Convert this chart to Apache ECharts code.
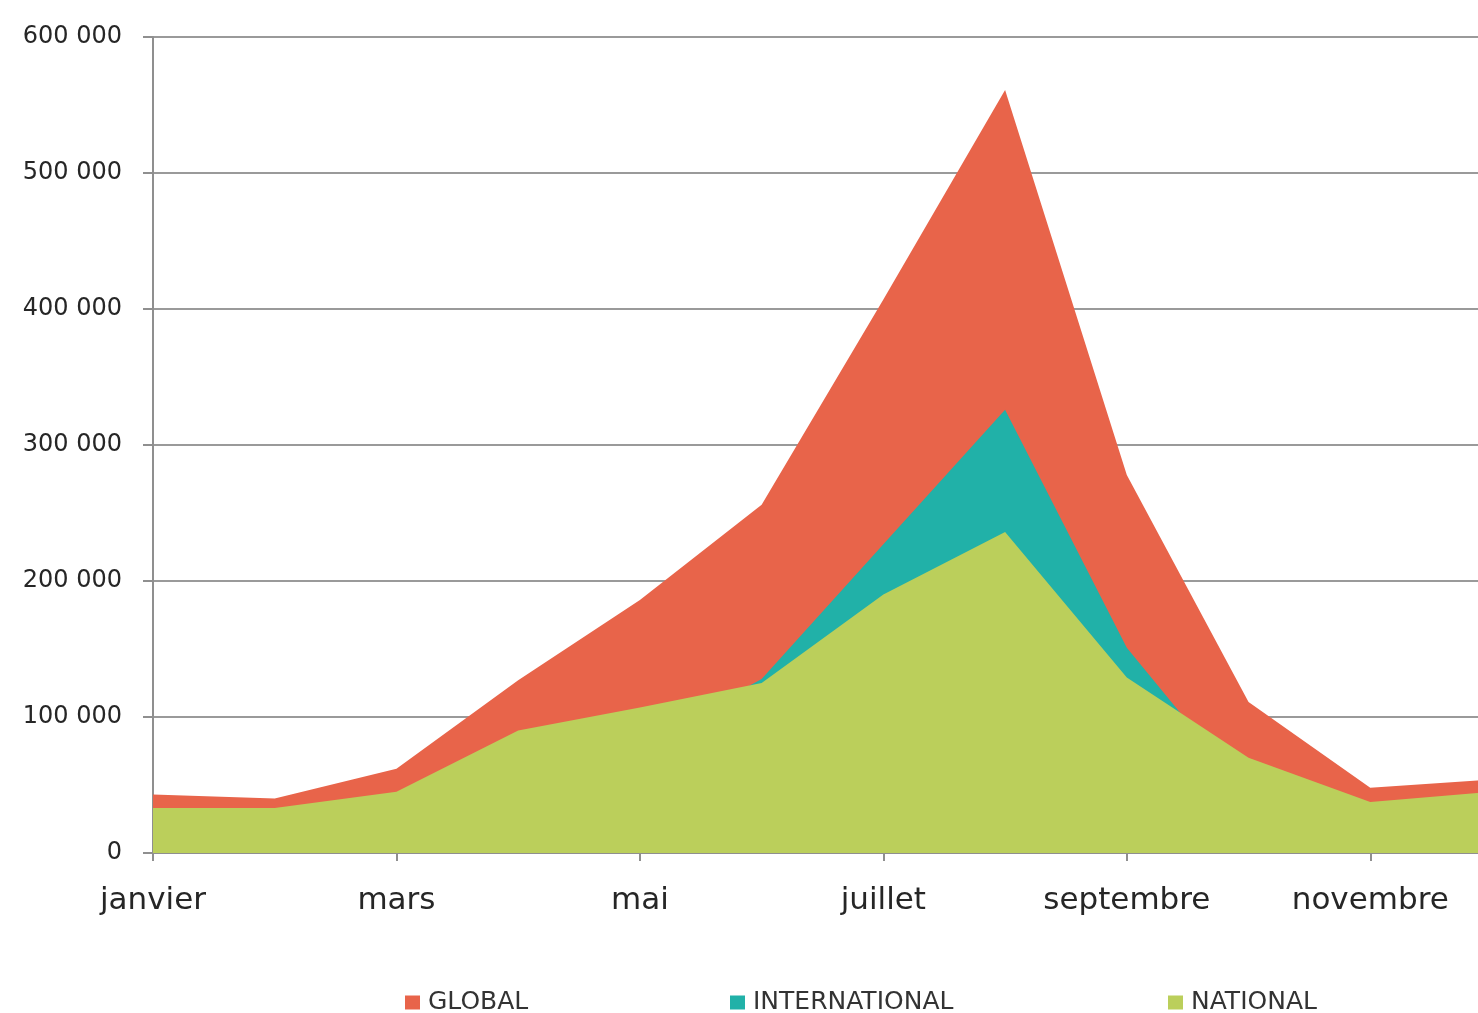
<!DOCTYPE html>
<html>
<head>
<meta charset="utf-8">
<title>Fréquentation mensuelle</title>
<script src="https://cdn.jsdelivr.net/npm/echarts@6/dist/echarts.min.js"></script>
<style>
    html, body { margin: 0; padding: 0; background: #fff; overflow: hidden; }
    /* le graphique d'origine est coupé à droite : décembre tombe hors cadre */
    #chart { width: 1492px; height: 1013px; }
</style>
</head>
<body>
<div id="chart"></div>
<script>
// mois (un libellé sur deux affiché)
var mois = ['janvier', 'février', 'mars', 'avril', 'mai', 'juin',
    'juillet', 'août', 'septembre', 'octobre', 'novembre', 'décembre'];
// valeurs
var globalData = [43000, 40000, 62000, 127000, 186000, 256000, 407000, 561000, 278000, 111000, 48000, 54000];
var internationalData = [10000, 7000, 17000, 37000, 79000, 128000, 227000, 326000, 151000, 42000, 11000, 9000];
var nationalData = [33000, 33000, 45000, 90000, 107000, 125000, 190000, 236000, 129000, 70000, 37500, 45000];
var yTicks = [0, 100000, 200000, 300000, 400000, 500000, 600000];
var legendes = ['GLOBAL', 'INTERNATIONAL', 'NATIONAL'];

var couleurs = ['#E8644A', '#21B1A8', '#BBCF5B'];
var police = '"DejaVu Sans", "Open Sans", sans-serif';
var gris = '#8f8f8f';
var texte = '#262626';

function formatMillier(v) {
    return String(v).replace(/\B(?=(\d{3})+(?!\d))/g, ' ');
}

function serie(nom, data, couleur) {
    return {
        name: nom,
        type: 'line',
        data: data,
        symbol: 'none',
        lineStyle: {width: 0},
        areaStyle: {color: couleur, opacity: 1},
        itemStyle: {color: couleur},
        animation: false
    };
}

function legende(nom, x) {
    return {
        data: [nom],
        left: x,
        top: 990,
        padding: 0,
        icon: 'rect',
        itemWidth: 15,
        itemHeight: 14,
        textStyle: {color: '#333', fontSize: 25, fontFamily: police, padding: [0, 0, 0, 3]}
    };
}

var chart = echarts.init(document.getElementById('chart'));
var option = {
    backgroundColor: '#fff',
    color: couleurs,
    textStyle: {fontFamily: police},
    grid: {
        left: 153,
        top: 37,
        bottom: 160,
        right: 0,
        containLabel: false
    },
    legend: [
        legende(legendes[0], 405),
        legende(legendes[1], 730),
        legende(legendes[2], 1168)
    ],
    xAxis: {
        type: 'category',
        boundaryGap: false,
        data: mois,
        axisLine: {lineStyle: {color: gris, width: 2}},
        axisTick: {show: true, interval: 1, length: 8, lineStyle: {color: gris, width: 2}},
        axisLabel: {interval: 1, color: texte, fontSize: 31, margin: 32, fontFamily: police},
        splitLine: {show: false}
    },
    yAxis: {
        type: 'value',
        min: yTicks[0],
        max: yTicks[yTicks.length - 1],
        interval: 100000,
        axisLine: {show: true, lineStyle: {color: gris, width: 2}},
        axisTick: {show: true, length: 10, lineStyle: {color: gris, width: 2}},
        axisLabel: {
            color: texte,
            fontSize: 24,
            margin: 31,
            fontFamily: police,
            formatter: function (v) {
                return formatMillier(v);
            }
        },
        splitLine: {lineStyle: {color: '#9a9a9a', width: 2}}
    },
    series: [
        serie(legendes[0], globalData, couleurs[0]),
        serie(legendes[1], internationalData, couleurs[1]),
        serie(legendes[2], nationalData, couleurs[2])
    ]
};
chart.setOption(option);
</script>
</body>
</html>
